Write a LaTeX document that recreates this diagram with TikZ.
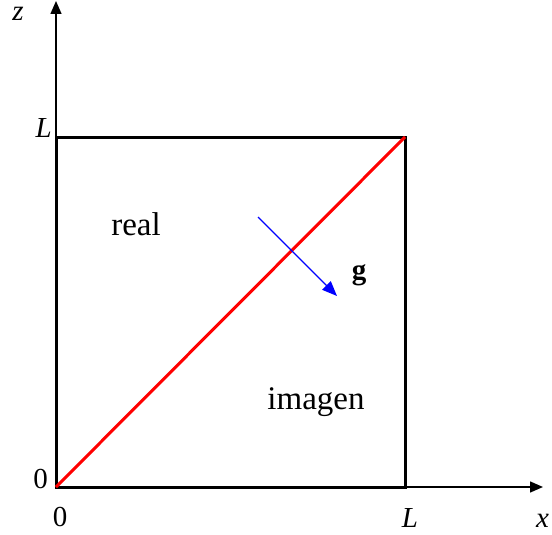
\documentclass[tikz,border=0pt]{standalone}
\usepackage{fontspec}
\setmainfont{Liberation Serif}
\usetikzlibrary{arrows.meta}
\begin{document}
\begin{tikzpicture}[x=1pt,y=-1pt,
  axis/.style={line width=1.4pt,-{Triangle[length=13pt,width=11pt]}},
  box/.style={line width=3pt,line cap=rect},
  diag/.style={line width=3pt,red},
  grav/.style={line width=1.4pt,blue,-{Triangle[length=15pt,width=12pt]}},
  lab/.style={inner sep=0pt,font=\fontsize{29}{29}\selectfont},
  txt/.style={inner sep=0pt,font=\fontsize{33}{33}\selectfont}]
\useasboundingbox (0,0) rectangle (552,535);
\coordinate (O) at (56,487);
\coordinate (A) at (405,487);
\coordinate (B) at (405,137);
\coordinate (C) at (56,137);
\coordinate (ztip) at (56,1);
\coordinate (xtip) at (543,487);
\coordinate (gs) at (258,217);
\coordinate (ge) at (337,296);
\draw[axis] (O) -- (ztip);
\draw[axis] (O) -- (xtip);
\draw[box] (O) -- (A) -- (B) -- (C) -- cycle;
\draw[diag] (O) -- (B);
\draw[grav] (gs) -- (ge);
\node[lab,anchor=base,text height=14pt] (zl) at (18,21) {\textit{z}};
\node[lab,anchor=base east] (Lz) at (52,137) {\textit{L}};
\node[lab,anchor=base east] (z0) at (48,488) {0};
\node[lab,anchor=base] (x0) at (60,526) {0};
\node[lab,anchor=base] (Lx) at (410,527) {\textit{L}};
\node[lab,anchor=base west] (xl) at (536,527) {\textit{x}};
\node[txt,anchor=base] (real) at (136,235) {real};
\node[txt,anchor=base] (imag) at (316,409) {imagen};
\node[lab,anchor=base] (g) at (359,279) {\textbf{g}};
\end{tikzpicture}
\end{document}
